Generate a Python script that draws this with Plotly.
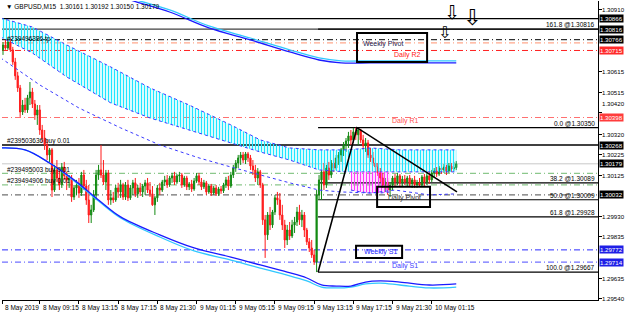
import plotly.graph_objects as go

# ---------------- data ----------------
symbol_header = "\u25bc GBPUSD,M15  1.30161 1.30192 1.30150 1.30179"
first_open = 1.30718
highs = [
    1.30755, 1.30765, 1.30774, 1.30774, 1.30732, 1.30680, 1.30614, 1.30552, 1.30481, 1.30491,
    1.30505, 1.30566, 1.30538, 1.30481, 1.30457, 1.30457, 1.30363, 1.30339, 1.30292, 1.30254,
    1.30254, 1.30174, 1.30197, 1.30159, 1.30183, 1.30188, 1.30141, 1.30126, 1.30126, 1.30079,
    1.30103, 1.30112, 1.30141, 1.30150, 1.30103, 1.30079, 1.29985, 1.30055, 1.30150, 1.30174,
    1.30268, 1.30197, 1.30150, 1.30150, 1.30055, 1.30046, 1.30079, 1.30089, 1.30103, 1.30089,
    1.30093, 1.30103, 1.30079, 1.30103, 1.30112, 1.30079, 1.30089, 1.30084, 1.30103, 1.30112,
    1.30093, 1.30074, 1.30027, 1.30079, 1.30089, 1.30103, 1.30122, 1.30126, 1.30122, 1.30136,
    1.30141, 1.30131, 1.30141, 1.30136, 1.30122, 1.30122, 1.30093, 1.30103, 1.30112, 1.30136,
    1.30136, 1.30112, 1.30103, 1.30098, 1.30084, 1.30084, 1.30074, 1.30079, 1.30070, 1.30074,
    1.30089, 1.30117, 1.30122, 1.30141, 1.30174, 1.30197, 1.30221, 1.30235, 1.30235, 1.30235,
    1.30235, 1.30221, 1.30197, 1.30174, 1.30159, 1.30150, 1.30089, 1.29937, 1.29951, 1.29975,
    1.29961, 1.30032, 1.30046, 1.30041, 1.29985, 1.29914, 1.29890, 1.29904, 1.29914, 1.29928,
    1.29975, 1.29985, 1.29961, 1.29951, 1.29876, 1.29828, 1.29819, 1.29772, 1.30055, 1.30126,
    1.30159, 1.30183, 1.30174, 1.30188, 1.30197, 1.30207, 1.30221, 1.30235, 1.30254, 1.30282,
    1.30301, 1.30330, 1.30339, 1.30349, 1.30350, 1.30344, 1.30344, 1.30316, 1.30301, 1.30292,
    1.30254, 1.30235, 1.30207, 1.30183, 1.30159, 1.30136, 1.30112, 1.30112, 1.30093, 1.30122,
    1.30131, 1.30136, 1.30131, 1.30122, 1.30126, 1.30122, 1.30126, 1.30112, 1.30122, 1.30103,
    1.30112, 1.30126, 1.30131, 1.30141, 1.30141, 1.30150, 1.30159, 1.30164, 1.30169, 1.30174,
    1.30178, 1.30174, 1.30183, 1.30183, 1.30188, 1.30192,
]
lows = [
    1.30694, 1.30718, 1.30718, 1.30708, 1.30647, 1.30576, 1.30519, 1.30401, 1.30410, 1.30420,
    1.30420, 1.30457, 1.30443, 1.30387, 1.30363, 1.30316, 1.30282, 1.30245, 1.30197, 1.30188,
    1.30022, 1.30046, 1.30093, 1.30055, 1.30065, 1.30103, 1.30055, 1.30065, 1.29999, 1.30008,
    1.30032, 1.30018, 1.30027, 1.30055, 1.29985, 1.29899, 1.29899, 1.29951, 1.30008, 1.30103,
    1.30112, 1.30079, 1.30055, 1.29985, 1.29985, 1.29994, 1.29999, 1.30018, 1.30018, 1.30008,
    1.30008, 1.30003, 1.30008, 1.30032, 1.30022, 1.30018, 1.30027, 1.30022, 1.30032, 1.30041,
    1.30022, 1.29980, 1.29937, 1.29999, 1.30032, 1.30046, 1.30074, 1.30065, 1.30070, 1.30089,
    1.30079, 1.30084, 1.30093, 1.30065, 1.30070, 1.30055, 1.30055, 1.30046, 1.30051, 1.30089,
    1.30079, 1.30055, 1.30060, 1.30032, 1.30037, 1.30027, 1.30032, 1.30027, 1.30027, 1.30037,
    1.30041, 1.30065, 1.30055, 1.30065, 1.30112, 1.30141, 1.30159, 1.30174, 1.30183, 1.30178,
    1.30188, 1.30150, 1.30126, 1.30093, 1.30079, 1.30065, 1.29890, 1.29734, 1.29819, 1.29866,
    1.29876, 1.29937, 1.29985, 1.29914, 1.29866, 1.29781, 1.29795, 1.29819, 1.29828, 1.29852,
    1.29885, 1.29890, 1.29880, 1.29833, 1.29795, 1.29762, 1.29734, 1.29701, 1.29667, 1.30008,
    1.30008, 1.30055, 1.30065, 1.30103, 1.30112, 1.30141, 1.30150, 1.30174, 1.30188, 1.30216,
    1.30235, 1.30254, 1.30268, 1.30278, 1.30292, 1.30268, 1.30278, 1.30245, 1.30235, 1.30207,
    1.30188, 1.30169, 1.30150, 1.30122, 1.30093, 1.30065, 1.30046, 1.30032, 1.30022, 1.30055,
    1.30074, 1.30079, 1.30074, 1.30074, 1.30079, 1.30074, 1.30070, 1.30065, 1.30065, 1.30065,
    1.30070, 1.30070, 1.30074, 1.30079, 1.30084, 1.30093, 1.30112, 1.30117, 1.30122, 1.30131,
    1.30136, 1.30126, 1.30136, 1.30141, 1.30145, 1.30150,
]
closes = [
    1.30741, 1.30727, 1.30755, 1.30718, 1.30661, 1.30595, 1.30538, 1.30424, 1.30457, 1.30434,
    1.30491, 1.30519, 1.30462, 1.30410, 1.30434, 1.30339, 1.30301, 1.30268, 1.30221, 1.30245,
    1.30055, 1.30150, 1.30112, 1.30079, 1.30164, 1.30122, 1.30103, 1.30112, 1.30022, 1.30065,
    1.30079, 1.30041, 1.30126, 1.30074, 1.30008, 1.29937, 1.29961, 1.30032, 1.30126, 1.30150,
    1.30126, 1.30093, 1.30136, 1.30008, 1.30018, 1.30008, 1.30065, 1.30046, 1.30079, 1.30022,
    1.30079, 1.30018, 1.30065, 1.30089, 1.30037, 1.30065, 1.30046, 1.30074, 1.30089, 1.30055,
    1.30037, 1.29985, 1.30018, 1.30065, 1.30055, 1.30093, 1.30103, 1.30079, 1.30112, 1.30122,
    1.30093, 1.30122, 1.30126, 1.30079, 1.30112, 1.30070, 1.30084, 1.30060, 1.30098, 1.30122,
    1.30093, 1.30070, 1.30089, 1.30046, 1.30074, 1.30041, 1.30065, 1.30037, 1.30060, 1.30051,
    1.30079, 1.30103, 1.30074, 1.30126, 1.30159, 1.30183, 1.30207, 1.30221, 1.30197, 1.30226,
    1.30207, 1.30169, 1.30150, 1.30112, 1.30141, 1.30079, 1.29914, 1.29843, 1.29937, 1.29890,
    1.29951, 1.30018, 1.30008, 1.29937, 1.29890, 1.29819, 1.29866, 1.29838, 1.29890, 1.29904,
    1.29951, 1.29914, 1.29937, 1.29866, 1.29810, 1.29781, 1.29748, 1.29715, 1.30032, 1.30103,
    1.30141, 1.30079, 1.30159, 1.30126, 1.30183, 1.30159, 1.30207, 1.30221, 1.30245, 1.30268,
    1.30287, 1.30311, 1.30292, 1.30330, 1.30316, 1.30339, 1.30292, 1.30264, 1.30278, 1.30221,
    1.30207, 1.30183, 1.30164, 1.30136, 1.30112, 1.30079, 1.30093, 1.30055, 1.30079, 1.30112,
    1.30093, 1.30122, 1.30089, 1.30107, 1.30093, 1.30112, 1.30084, 1.30103, 1.30079, 1.30089,
    1.30079, 1.30117, 1.30093, 1.30122, 1.30103, 1.30136, 1.30145, 1.30131, 1.30159, 1.30150,
    1.30164, 1.30145, 1.30169, 1.30155, 1.30161, 1.30179,
]
opens = [first_open] + closes[:-1]
bars = list(range(len(closes)))

# time axis labels (bar index of each label)
time_tick_bars = [-0.3, 15, 31, 47, 63, 79, 95, 111, 127, 143, 159, 175]
time_tick_labels = ["8 May 2019", "8 May 09:15", "8 May 13:15", "8 May 17:15", "8 May 21:30",
                    "9 May 01:15", "9 May 05:15", "9 May 09:15", "9 May 13:15", "9 May 17:15",
                    "9 May 21:30", "10 May 01:15"]
price_ticks = [1.30910, 1.30615, 1.30515, 1.30420, 1.30320, 1.30225,
               1.30125, 1.29930, 1.29835, 1.29635, 1.29540]

# indicator cloud
cloud_bars = [-1, 12, 26, 44, 60, 76, 93, 105, 117, 129, 140, 150, 162, 185]
cloud_top = [1.30869, 1.30826, 1.30741, 1.30637, 1.30538, 1.30457, 1.30363, 1.30292, 1.30254,
             1.30245, 1.30245, 1.30254, 1.30245, 1.30245]
cloud_bottom = [1.30779, 1.30703, 1.30590, 1.30467, 1.30396, 1.30339, 1.30278, 1.30235, 1.30197,
                1.30150, 1.30141, 1.30141, 1.30141, 1.30141]
magenta_bars = [142, 146, 150, 154, 158]
magenta_top = [1.30141, 1.30141, 1.30141, 1.30141, 1.30141]
magenta_bottom = [1.30055, 1.30046, 1.30041, 1.30041, 1.30046]
mid_bars = [-1, 15, 31, 48, 64, 80, 93, 105, 117, 129, 138, 150, 160, 174, 185]
mid_vals = [1.30680, 1.30552, 1.30443, 1.30349, 1.30268, 1.30207, 1.30164, 1.30126, 1.30089,
            1.30055, 1.30046, 1.30041, 1.30055, 1.30032, 1.30037]

# moving averages
ma_slow_bars = [44, 52, 68, 84, 101, 117, 129, 138, 150, 162, 185]
ma_slow_blue = [1.30992, 1.30954, 1.30897, 1.30822, 1.30765, 1.30708, 1.30670, 1.30656, 1.30656, 1.30656, 1.30656]
ma_slow_cyan = [1.31001, 1.30963, 1.30907, 1.30831, 1.30774, 1.30718, 1.30680, 1.30666, 1.30666, 1.30666, 1.30666]
ma_fast_bars = [-1, 9, 19, 29, 39, 48, 64, 78, 93, 105, 116, 124, 130, 136, 142, 148, 154, 162, 174, 185]
ma_fast_blue = [1.30254, 1.30245, 1.30183, 1.30103, 1.30008, 1.29928, 1.29843, 1.29781, 1.29738, 1.29701,
                1.29667, 1.29639, 1.29606, 1.29601, 1.29601, 1.29620, 1.29625, 1.29620, 1.29606, 1.29611]
ma_fast_cyan = [1.30254, 1.30245, 1.30183, 1.30098, 1.30003, 1.29923, 1.29833, 1.29767, 1.29724, 1.29686,
                1.29653, 1.29625, 1.29596, 1.29592, 1.29596, 1.29611, 1.29615, 1.29606, 1.29592, 1.29596]

# horizontal levels
level_prices = [1.30866, 1.30816, 1.30766, 1.30751, 1.30715, 1.30398, 1.30268, 1.30179,
                1.30134, 1.30079, 1.30032, 1.29772, 1.29714]
tag_prices = [1.30866, 1.30816, 1.30766, 1.30715, 1.30398, 1.30268, 1.30179, 1.30032, 1.29772, 1.29714]

# fibonacci
fib_start_bar = 128.6
fib_names = ["0.0", "38.2", "50.0", "61.8", "100.0", "161.8"]
fib_prices = [1.30350, 1.30089, 1.30009, 1.29928, 1.29667, 1.30816]

# trend lines
trend_bars = [128.6, 144.5, 185.3]
trend_prices = [1.29667, 1.30350, 1.30046]

# order labels
order_texts = ["#239496386 tp", "#239503636 buy 0.01", "#239495003 buy 0.01", "#239494906 buy 0.01"]
order_prices = [1.30770, 1.30287, 1.30150, 1.30096]

# pivot labels
pivot_texts = ["Weekly Pivot", "Daily R2", "Daily R1", "Daily Pivot", "Weekly S1", "Daily S1"]
pivot_bars = [155.1, 165.3, 164.1, 163.7, 153.9, 164.1]
pivot_prices = [1.30746, 1.30694, 1.30382, 1.30018, 1.29762, 1.29696]

# boxes: (bar0, bar1, price0, price1)
box_bar0 = [144.5, 152.7, 144.1]
box_bar1 = [173.1, 174.3, 162.9]
box_p0 = [1.30661, 1.29975, 1.29734]
box_p1 = [1.30798, 1.30070, 1.29791]

# arrows
arrow_bars = [183.3, 191.4, 180.0]
arrow_prices = [1.30898, 1.30872, 1.30798]

# ---------------- styles ----------------
X_RANGE = [-0.41, 242.86]
Y_RANGE = [1.29535, 1.30949]
FONT = "Liberation Sans, Arial, sans-serif"
DD = "6px,3px,1px,3px"
level_styles = [
    dict(color="#000000", width=1.2, dash="solid"),
    dict(color="#404040", width=1.2, dash="solid"),
    dict(color="#000000", width=1, dash=DD),
    dict(color="#ffa88c", width=1.2, dash=DD),
    dict(color="#ff2020", width=1, dash=DD),
    dict(color="#ff7070", width=1, dash=DD),
    dict(color="#000000", width=1.6, dash="solid"),
    dict(color="#c8c8c8", width=1, dash="solid"),
    dict(color="#8cc88c", width=1.2, dash=DD),
    dict(color="#8cc88c", width=1.2, dash=DD),
    dict(color="#707070", width=1.2, dash=DD),
    dict(color="#2a2aff", width=1, dash=DD),
    dict(color="#7070ff", width=1.2, dash=DD),
]
tag_colors = ["#000000", "#000000", "#000000", "#ff2a2a", "#ff3c3c", "#000000",
              "#000000", "#000000", "#1f1fe6", "#1f1fe6"]
pivot_colors = ["#1a1a50", "#ff2020", "#ff5050", "#303030", "#2020ff", "#4040ff"]
arrow_sizes = [19, 22, 16]
# vertical nudge (px) of price-scale labels that would sit under a price tag
price_label_nudge = [0, 0, 0, 9, 0, 0, 0, 0, 0, 0, 0]

fig = go.Figure()

# cloud (hatched)
fig.add_trace(go.Scatter(x=cloud_bars, y=cloud_bottom, mode="lines",
                         line=dict(color="#3a3aff", width=1, dash="dot"), hoverinfo="skip"))
fig.add_trace(go.Scatter(x=cloud_bars, y=cloud_top, mode="lines",
                         line=dict(color="#3a3aff", width=1, dash="dot"), fill="tonexty",
                         fillcolor="rgba(0,0,0,0)",
                         fillpattern=dict(shape="|", fgcolor="#1ee6ff", bgcolor="rgba(0,0,0,0)",
                                          size=3, solidity=0.45, fillmode="replace"),
                         hoverinfo="skip"))
fig.add_trace(go.Scatter(x=magenta_bars, y=magenta_bottom, mode="lines",
                         line=dict(color="#3a3aff", width=1, dash="dot"), hoverinfo="skip"))
fig.add_trace(go.Scatter(x=magenta_bars, y=magenta_top, mode="lines",
                         line=dict(color="rgba(0,0,0,0)", width=0), fill="tonexty",
                         fillcolor="rgba(0,0,0,0)",
                         fillpattern=dict(shape="|", fgcolor="#ff3cff", bgcolor="rgba(0,0,0,0)",
                                          size=3, solidity=0.45, fillmode="replace"),
                         hoverinfo="skip"))
fig.add_trace(go.Scatter(x=mid_bars, y=mid_vals, mode="lines",
                         line=dict(color="#3a3aff", width=1, dash="dot"), hoverinfo="skip"))

# moving averages
for xs, ys, col in [(ma_slow_bars, ma_slow_cyan, "#30c8ff"), (ma_slow_bars, ma_slow_blue, "#1a1aff"),
                    (ma_fast_bars, ma_fast_cyan, "#30c8ff"), (ma_fast_bars, ma_fast_blue, "#1a1aff")]:
    fig.add_trace(go.Scatter(x=xs, y=ys, mode="lines", line=dict(color=col, width=1.3, shape="spline"),
                             hoverinfo="skip"))

# candles
fig.add_trace(go.Candlestick(x=bars, open=opens, high=highs, low=lows, close=closes,
                             increasing=dict(line=dict(color="#138a13", width=1), fillcolor="#138a13"),
                             decreasing=dict(line=dict(color="#ff1a1a", width=1), fillcolor="#ff1a1a"),
                             whiskerwidth=0, hoverinfo="skip"))

# trend lines
fig.add_trace(go.Scatter(x=trend_bars, y=trend_prices, mode="lines",
                         line=dict(color="#000000", width=1.6), hoverinfo="skip"))

shapes = []
for p, st in zip(level_prices, level_styles):
    shapes.append(dict(type="line", xref="paper", x0=0, x1=1, yref="y", y0=p, y1=p,
                       line=st, layer="below"))
for p in fib_prices:
    shapes.append(dict(type="line", xref="x", x0=fib_start_bar, x1=X_RANGE[1], yref="y", y0=p, y1=p,
                       line=dict(color="#000000", width=1.2), layer="below"))
for b0, b1, p0, p1 in zip(box_bar0, box_bar1, box_p0, box_p1):
    shapes.append(dict(type="rect", xref="x", yref="y", x0=b0, x1=b1, y0=p0, y1=p1,
                       line=dict(color="#000000", width=2), fillcolor="rgba(0,0,0,0)", layer="above"))

ann = []
ann.append(dict(text=symbol_header, xref="paper", yref="paper", x=0, y=0.983, xshift=2,
                xanchor="left", yanchor="middle", showarrow=False,
                font=dict(size=6.5, color="#000000", family=FONT)))
for t, p in zip(order_texts, order_prices):
    ann.append(dict(text=t, xref="paper", yref="y", x=0, y=p, xshift=3, xanchor="left",
                    yanchor="middle", showarrow=False, font=dict(size=6.5, color="#000000", family=FONT)))
for n, p in zip(fib_names, fib_prices):
    ann.append(dict(text=f"{n} @{p:.5f}", xref="paper", yref="y", x=1, y=p, xshift=-1, yshift=-1,
                    xanchor="right", yanchor="bottom", showarrow=False,
                    font=dict(size=6.5, color="#000000", family=FONT)))
for t, b, p, c in zip(pivot_texts, pivot_bars, pivot_prices, pivot_colors):
    ann.append(dict(text=t, xref="x", yref="y", x=b, y=p, xanchor="center", yanchor="middle",
                    showarrow=False, font=dict(size=7, color=c, family=FONT)))
# price scale labels
for p, nud in zip(price_ticks, price_label_nudge):
    ann.append(dict(text=f"{p:.5f}", xref="paper", yref="y", x=1, y=p, xshift=3, yshift=nud,
                    xanchor="left", yanchor="middle", showarrow=False, borderpad=0,
                    font=dict(size=6.1, color="#000000", family=FONT)))
for p, c in zip(tag_prices, tag_colors):
    ann.append(dict(text=f"{p:.5f}", xref="paper", yref="y", x=1, y=p, xshift=1, xanchor="left",
                    yanchor="middle", showarrow=False, bgcolor=c, borderpad=0,
                    font=dict(size=6.1, color="#ffffff", family=FONT)))
for b, t in zip(time_tick_bars, time_tick_labels):
    ann.append(dict(text=t, xref="x", yref="paper", x=b, y=0, xshift=1, yshift=-8, xanchor="left",
                    yanchor="middle", showarrow=False, font=dict(size=6.5, color="#000000", family=FONT)))
for b, p, s in zip(arrow_bars, arrow_prices, arrow_sizes):
    ann.append(dict(text="\u21e9", xref="x", yref="y", x=b, y=p, xanchor="center", yanchor="middle",
                    showarrow=False, font=dict(size=s, color="#000000", family="DejaVu Sans")))

fig.update_layout(
    width=625, height=316, margin=dict(l=2, r=27, t=1, b=16),
    paper_bgcolor="white", plot_bgcolor="white", showlegend=False, hovermode=False,
    shapes=shapes, annotations=ann,
    xaxis=dict(range=X_RANGE, showgrid=False, zeroline=False, showline=True, linecolor="#000000",
               linewidth=1, ticks="outside", ticklen=3, tickcolor="#000000",
               tickvals=time_tick_bars, ticktext=[""] * len(time_tick_bars),
               rangeslider=dict(visible=False)),
    yaxis=dict(range=Y_RANGE, side="right", showgrid=False, zeroline=False, showline=True,
               linecolor="#000000", linewidth=1, ticks="outside", ticklen=3, tickcolor="#000000",
               tickvals=price_ticks, ticktext=[""] * len(price_ticks)),
)

fig.write_html("out.html")
